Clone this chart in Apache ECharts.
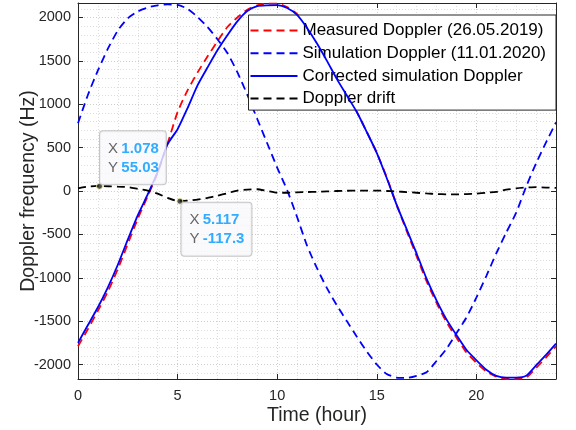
<!DOCTYPE html>
<html>
<head>
<meta charset="utf-8">
<script src="https://cdn.jsdelivr.net/npm/echarts@6/dist/echarts.min.js"></script>
<style>
html,body{margin:0;padding:0;background:#fff;}
#chart{width:576px;height:430px;}
</style>
</head>
<body>
<div id="chart"></div>
<script>
// Time (hour)
var time = [0,0.5,1,1.5,2,2.5,3,3.5,4,4.5,5,5.5,6,6.5,7,7.5,8,8.5,9,9.5,10,10.5,11,11.5,12,12.5,13,13.5,14,14.5,15,15.5,16,16.5,17,17.5,18,18.5,19,19.5,20,20.5,21,21.5,22,22.5,23,23.5,24];
// Measured Doppler (26.05.2019)
var measured = [-1790,-1590,-1380,-1160,-900,-610,-320,-60,210,550,910,1160,1365,1550,1725,1890,2000,2090,2140,2160,2160,2120,2040,1890,1710,1510,1300,1110,910,680,440,160,-160,-460,-750,-1040,-1290,-1510,-1690,-1860,-1980,-2080,-2140,-2165,-2165,-2150,-2040,-1920,-1790];
// Simulation Doppler (11.01.2020)
var simulation = [780,1110,1390,1640,1850,1990,2070,2115,2140,2150,2145,2100,2007,1890,1750,1590,1370,1110,830,550,270,10,-300,-630,-890,-1120,-1320,-1500,-1680,-1850,-2000,-2110,-2150,-2155,-2130,-2090,-1960,-1820,-1640,-1460,-1230,-980,-720,-480,-250,50,320,560,790];
// Corrected simulation Doppler
var corrected = [-1750,-1545,-1340,-1110,-850,-560,-280,-40,220,540,712,955,1218,1423,1622,1796,1956,2075,2130,2140,2142,2110,2030,1880,1700,1500,1290,1100,910,680,440,150,-160,-440,-720,-1010,-1260,-1480,-1660,-1830,-1950,-2060,-2130,-2150,-2150,-2130,-2010,-1890,-1760];
// Doppler drift
var drift = [30,50,58,55,50,45,25,5,-30,-80,-115,-110,-100,-80,-55,-25,5,15,20,0,-20,-20,-15,-12,-10,-5,0,3,5,5,5,0,-5,-12,-20,-28,-35,-38,-40,-35,-30,-20,-10,15,30,40,45,40,35];
// Data tips
var tipX = [1.078, 5.117];
var tipY = [55.03, -117.3];

var seriesNames = ['Measured Doppler (26.05.2019)','Simulation Doppler (11.01.2020)','Corrected simulation Doppler','Doppler drift'];

function pairs(arr){ return time.map(function(t,i){ return [t, arr[i]]; }); }

var FONT = '"Liberation Sans", Arial, Helvetica, sans-serif';
var AX = '#262626';
var DASH = [8,5];

var chart = echarts.init(document.getElementById('chart'), null, {renderer:'canvas'});

function tipLabel(i){
  var above = i === 0;
  return {
    show: true,
    position: above ? [4, 1.5] : [5, 5],
    align: 'left',
    verticalAlign: above ? 'bottom' : 'top',
    formatter: '{k|X} {v|' + String(tipX[i]) + '}\n{k|Y} {v|' + String(tipY[i]) + '}',
    backgroundColor: '#f9f9fd',
    borderColor: '#b8b8b8',
    borderWidth: 1,
    borderRadius: 3,
    padding: [8, 7, 7, 8],
    rich: {
      k: {color:'#404040', fontSize:15, fontFamily:FONT, lineHeight:19},
      v: {color:'#0099ff', fontSize:15, fontWeight:'bold', fontFamily:FONT, lineHeight:19}
    }
  };
}

var gridLine = {show:true, lineStyle:{color:'#cdcdcd', type:[1,2], width:1}};
var minorLine = {show:true, lineStyle:{color:'#dcdcdc', type:[1,2], width:1}};
function plain(v){ return String(v); }

var option = {
  animation: false,
  backgroundColor: '#ffffff',
  grid: {left:78, right:20, top:3, bottom:51, containLabel:false, outerBoundsMode:'none'},
  xAxis: [{
    type:'value', min:0, max:24, minInterval:5, maxInterval:5,
    position:'bottom',
    name:'Time (hour)', nameLocation:'middle', nameGap:27, nameMoveOverlap:false,
    nameTextStyle:{fontSize:19.5, color:AX, fontFamily:FONT},
    axisLine:{show:true, onZero:false, lineStyle:{color:AX, width:1}},
    axisTick:{show:true, inside:true, length:5, lineStyle:{color:AX}},
    axisLabel:{show:true, fontSize:14.5, color:AX, fontFamily:FONT, margin:9, showMaxLabel:false, formatter:plain},
    minorTick:{show:false, splitNumber:5},
    splitLine:gridLine,
    minorSplitLine:minorLine
  },{
    type:'value', min:0, max:24, minInterval:5, maxInterval:5,
    position:'top',
    axisLine:{show:true, onZero:false, lineStyle:{color:AX, width:1}},
    axisTick:{show:true, inside:true, length:5, lineStyle:{color:AX}},
    axisLabel:{show:false},
    splitLine:{show:false}
  }],
  yAxis: [{
    type:'value', min:-2167, max:2167, minInterval:500, maxInterval:500,
    position:'left',
    name:'Doppler frequency (Hz)', nameLocation:'middle', nameGap:39, nameRotate:90, nameMoveOverlap:false,
    nameTextStyle:{fontSize:19.5, color:AX, fontFamily:FONT},
    axisLine:{show:true, onZero:false, lineStyle:{color:AX, width:1}},
    axisTick:{show:true, inside:true, length:5, lineStyle:{color:AX}},
    axisLabel:{show:true, fontSize:14.5, color:AX, fontFamily:FONT, margin:7, showMinLabel:false, showMaxLabel:false, formatter:plain},
    minorTick:{show:false, splitNumber:5},
    splitLine:gridLine,
    minorSplitLine:minorLine
  },{
    type:'value', min:-2167, max:2167, minInterval:500, maxInterval:500,
    position:'right',
    axisLine:{show:true, onZero:false, lineStyle:{color:AX, width:1}},
    axisTick:{show:true, inside:true, length:5, lineStyle:{color:AX}},
    axisLabel:{show:false},
    splitLine:{show:false}
  }],
  legend: {
    data: seriesNames,
    orient:'vertical',
    right:20, top:15,
    backgroundColor:'#ffffff',
    borderColor:AX, borderWidth:1, borderRadius:0,
    padding:[7,10,3,1],
    itemWidth:47, itemHeight:17, itemGap:5.7,
    itemStyle:{opacity:0},
    textStyle:{fontSize:17, color:'#000', fontFamily:FONT, lineHeight:17},
    selectedMode:false
  },
  series: [
    {name:seriesNames[0], type:'line', data:pairs(measured), symbol:'none', showSymbol:false, smooth:0.2,
     lineStyle:{color:'#ff0000', width:1.8, type:DASH}, itemStyle:{color:'#ff0000'}, z:2},
    {name:seriesNames[1], type:'line', data:pairs(simulation), symbol:'none', showSymbol:false, smooth:0.2,
     lineStyle:{color:'#0000ff', width:1.8, type:DASH}, itemStyle:{color:'#0000ff'}, z:3},
    {name:seriesNames[2], type:'line', data:pairs(corrected), symbol:'none', showSymbol:false, smooth:0.2,
     lineStyle:{color:'#0000ff', width:1.8, type:'solid'}, itemStyle:{color:'#0000ff'}, z:4},
    {name:seriesNames[3], type:'line', data:pairs(drift), symbol:'none', showSymbol:false, smooth:0.2,
     lineStyle:{color:'#000000', width:1.8, type:DASH}, itemStyle:{color:'#000000'}, z:5},
    {name:'datatips', type:'scatter', symbol:'circle', symbolSize:6, z:10,
     itemStyle:{color:'#262626', borderColor:'#ffffb0', borderWidth:1},
     data: tipX.map(function(x,i){ return {value:[x, tipY[i]], label: tipLabel(i)}; })}
  ]
};
chart.setOption(option);
</script>
</body>
</html>
